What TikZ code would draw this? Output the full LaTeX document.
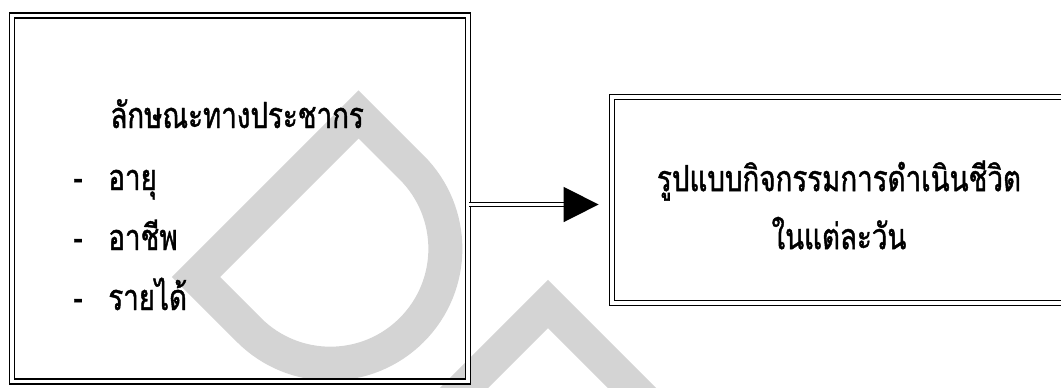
\documentclass[tikz,border=0pt]{standalone}
\usepackage{fontspec}
\newfontfamily\thaifont[Script=Thai, FakeStretch=0.77, FakeBold=1.2]{Loma}
\usepackage{xcolor}
\usetikzlibrary{arrows.meta}
\definecolor{wmark}{RGB}{212,212,212}
\tikzset{dblbox/.style={draw, double, line width=0.9pt, double distance=1.6pt, inner sep=0pt}}
\tikzset{thai/.style={font=\thaifont\fontsize{18}{22}\selectfont, inner sep=0pt}}
\tikzset{dblarrow/.style={double, line width=0.8pt, double distance=1.3pt,
  -{Triangle[length=17.5pt, width=17.5pt]}}}

\begin{document}
\begin{tikzpicture}[x=0.5pt, y=-0.5pt]
\useasboundingbox (0,0) rectangle (1061,387);
\clip (0,0) rectangle (1061,387);

% watermark behind everything
\draw[wmark, line width=17pt] (196,277) -- (358.6,114.4) -- (411.6,167.4)
  .. controls (456.6,212.3) and (456.6,285.1) .. (411.7,330)
  .. controls (366.8,374.9) and (293.9,374.9) .. (249,330) -- cycle;
\draw[wmark, line width=17pt] (448,404) -- (548,304) -- (648,404);

% boxes
\node[dblbox, minimum width=228pt, minimum height=183pt] (demo) at (240,198.5) {};
\node[dblbox, minimum width=239pt, minimum height=103pt] (life) at (851,200) {};

% left box text
\node[thai, anchor=base west] (title) at (110,128) {ลักษณะทางประชากร};
\node[thai, anchor=base west] (age) at (73,190) {\makebox[17.5pt][l]{-}อายุ};
\node[thai, anchor=base west] (job) at (73,250) {\makebox[17.5pt][l]{-}อาชีพ};
\node[thai, anchor=base west] (income) at (73,310) {\makebox[17.5pt][l]{-}รายได้};

% right box text
\node[thai, align=center] (pattern) at (839,205) {รูปแบบกิจกรรมการดำเนินชีวิต\\[7pt]ในแต่ละวัน};

\draw[dblarrow, shorten >=6.25pt] ([yshift=-3pt]demo.east) -- ([yshift=-3pt]demo.east -| life.west);

\end{tikzpicture}
\end{document}
